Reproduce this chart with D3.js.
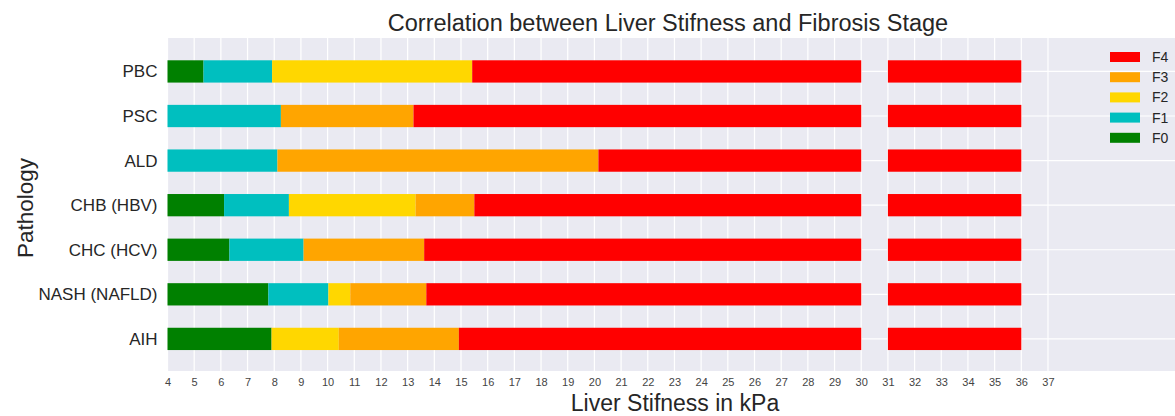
<!DOCTYPE html>
<html><head><meta charset="utf-8">
<script src="https://cdn.jsdelivr.net/npm/d3@7"></script>
<style>body{margin:0;background:#fff}svg{display:block;font-family:"Liberation Sans",Arial,Helvetica,sans-serif}</style>
</head><body><svg id="c" width="1175" height="416"></svg>
<script>
// Pathologies, bottom to top
const categories = ["AIH","NASH (NAFLD)","CHC (HCV)","CHB (HBV)","ALD","PSC","PBC"];
const stages = ["F0","F1","F2","F3","F4"];
const stageColors = ["#008000","#00bfbf","#ffd700","#ffa500","#ff0000"];
// upper cut-off (kPa) of each stage per pathology, null = stage not reported
const f0End = [7.9, 7.78, 6.32, 6.12, null, null, 5.35];
const f1End = [null, 10.03, 9.1, 8.55, 8.12, 8.25, 7.92];
const f2End = [10.42, 10.85, null, 13.3, null, null, 15.42];
const f3End = [14.92, 13.7, 13.62, 15.5, 20.15, 13.22, null];
const f4End = [36, 36, 36, 36, 36, 36, 36];
const axisStart = 4;
const breakFrom = 30, breakTo = 31;
const xTicks = d3.range(4, 38);

const svg = d3.select("#c");
const L = 167.5, T = 38, B = 371, R = 1175;
const x = d3.scaleLinear().domain([4, 41.76]).range([L, R]);
const y = d3.scaleLinear().domain([-0.72, 6.75]).range([B, T]);
const bh = (y(0) - y(1)) * 0.5;

svg.append("rect").attr("x", L).attr("y", T).attr("width", R - L).attr("height", B - T).attr("fill", "#eaeaf2");
// grid
svg.append("g").selectAll("line").data(xTicks).join("line")
  .attr("x1", d => x(d)).attr("x2", d => x(d)).attr("y1", T).attr("y2", B)
  .attr("stroke", "#fff").attr("stroke-width", 1.2);
svg.append("g").selectAll("line").data(categories).join("line")
  .attr("x1", L).attr("x2", R).attr("y1", (d, i) => y(i)).attr("y2", (d, i) => y(i))
  .attr("stroke", "#fff").attr("stroke-width", 1.2);

// segments
const ends = [f0End, f1End, f2End, f3End, f4End];
const segs = [];
categories.forEach((c, i) => {
  let start = axisStart;
  stages.forEach((s, k) => {
    const e = ends[k][i];
    if (e == null) return;
    if (start < breakFrom && e > breakTo) {
      segs.push({i, k, a: start, b: breakFrom});
      segs.push({i, k, a: breakTo, b: e});
    } else segs.push({i, k, a: start, b: e});
    start = e;
  });
});
svg.append("g").selectAll("rect").data(segs).join("rect")
  .attr("x", d => x(d.a)).attr("width", d => x(d.b) - x(d.a))
  .attr("y", d => y(d.i) - bh / 2).attr("height", bh)
  .attr("fill", d => stageColors[d.k]);

// axes
const xa = svg.append("g").attr("transform", `translate(0,${B})`)
  .call(d3.axisBottom(x).tickValues(xTicks).tickSize(0).tickPadding(7).tickFormat(d3.format("d")));
xa.select(".domain").remove();
xa.selectAll("text").attr("font-size", 11).attr("fill", "#444").attr("font-family", "Liberation Sans, Arial, sans-serif");
const ya = svg.append("g").attr("transform", `translate(${L},0)`)
  .call(d3.axisLeft(y).tickValues(d3.range(categories.length)).tickSize(0).tickPadding(10).tickFormat(i => categories[i]));
ya.select(".domain").remove();
ya.selectAll("text").attr("font-size", 17).attr("fill", "#262626").attr("font-family", "Liberation Sans, Arial, sans-serif");

// titles
svg.append("text").attr("x", 668).attr("y", 31).attr("text-anchor", "middle")
  .attr("font-size", 23.5).attr("fill", "#262626").text("Correlation between Liver Stifness and Fibrosis Stage");
svg.append("text").attr("x", 675).attr("y", 411).attr("text-anchor", "middle")
  .attr("font-size", 23).attr("fill", "#262626").text("Liver Stifness in kPa");
svg.append("text").attr("transform", "translate(33,208) rotate(-90)").attr("text-anchor", "middle")
  .attr("font-size", 22.5).attr("fill", "#262626").text("Pathology");

// legend
const lg = svg.append("g");
const order = [4, 3, 2, 1, 0];
order.forEach((k, j) => {
  const yy = 57 + j * 20.2;
  lg.append("rect").attr("x", 1110).attr("y", yy - 5).attr("width", 30).attr("height", 10).attr("fill", stageColors[k]);
  lg.append("text").attr("x", 1152).attr("y", yy + 5).attr("font-size", 14).attr("fill", "#262626").text(stages[k]);
});
</script></body></html>
